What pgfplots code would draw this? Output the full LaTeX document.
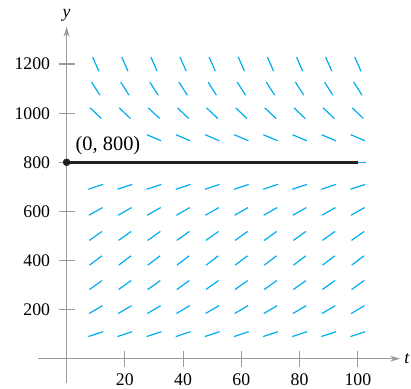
\documentclass[border=0pt]{standalone}
\usepackage{fontspec}
\setmainfont{Liberation Serif}
\usepackage{pgfplots}
\usepackage{pgfplotstable}
\pgfplotsset{compat=1.18}
\usetikzlibrary{arrows.meta}
\definecolor{fieldcyan}{RGB}{0,174,239}
\definecolor{axisgray}{RGB}{155,155,155}
\definecolor{solblack}{RGB}{35,31,32}

% slope segments (t-extent u, y-extent v) for each row y
\pgfplotstableread{
y u v
100 5.06 19.9
200 4.59 32.0
300 4.34 36.7
400 4.24 38.2
500 4.34 36.7
600 4.63 31.3
700 5.06 19.9
800 5.33 0
900 4.90 -24.8
1000 3.86 -43.5
1100 2.86 -53.2
1200 2.14 -57.7
}\slopes
% columns t=10 and t=20: the row y=900 is hidden behind the label
\pgfplotstableread{
y u v
100 5.06 19.9
200 4.59 32.0
300 4.34 36.7
400 4.24 38.2
500 4.34 36.7
600 4.63 31.3
700 5.06 19.9
800 5.33 0
1000 3.86 -43.5
1100 2.86 -53.2
1200 2.14 -57.7
}\slopesleft

\begin{document}
\begin{tikzpicture}
\begin{axis}[
  x=2.9125bp, y=0.2455bp,
  axis lines=middle,
  xmin=-9.7, xmax=114.5, ymin=-99, ymax=1352,
  clip=false,
  axis line style={draw=axisgray, line width=1.2bp, -{Stealth[length=10bp,width=6bp]}},
  xtick={20,40,60,80,100},
  ytick={200,400,600,800,1000,1200},
  tick align=center,
  major tick length=16bp,
  tick style={draw=axisgray, line width=1.2bp},
  /pgf/number format/assume math mode=true,
  /pgf/number format/1000 sep={},
  tick label style={font=\fontsize{17.8}{20}\selectfont, text=black},
  xticklabel style={anchor=north, yshift=-4bp},
  yticklabel style={anchor=east, xshift=-5bp},
]
\pgfplotsinvokeforeach{10,20}{
  \addplot[fieldcyan, line width=1.2bp, -,
    quiver={u=\thisrow{u}, v=\thisrow{v}}]
    table[x expr={#1-0.5*\thisrow{u}}, y expr={\thisrow{y}-0.5*\thisrow{v}}] {\slopesleft};
}
\pgfplotsinvokeforeach{30,40,50,60,70,80,90,100}{
  \addplot[fieldcyan, line width=1.2bp, -,
    quiver={u=\thisrow{u}, v=\thisrow{v}}]
    table[x expr={#1-0.5*\thisrow{u}}, y expr={\thisrow{y}-0.5*\thisrow{v}}] {\slopes};
}
\addplot[solblack, line width=2.6bp] coordinates {(0,800) (100,800)};
\addplot[solblack, only marks, mark=*, mark size=3.5bp] coordinates {(0,800)};
\node[font=\fontsize{20.5}{24}\selectfont] at (axis cs:14.2,868) {(0, 800)};
\node[font=\fontsize{17.8}{20}\selectfont\itshape] at (axis cs:116.8,0) {t};
\node[font=\fontsize{17.8}{20}\selectfont\itshape] at (axis cs:0,1400) {y};
\coordinate (bl) at (axis cs:-22.87,-123.4);
\coordinate (tr) at (axis cs:118.25,1461.1);
\end{axis}
\pgfresetboundingbox
\useasboundingbox (bl) rectangle (tr);
\end{tikzpicture}
\end{document}
